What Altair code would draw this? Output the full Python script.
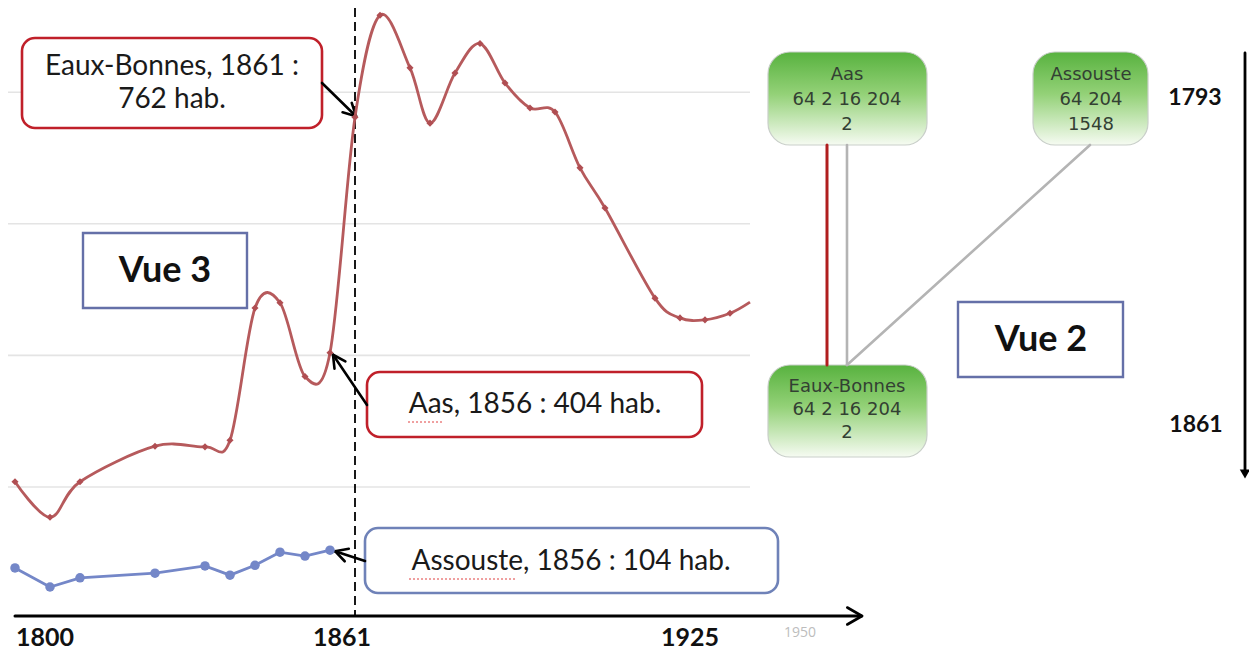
import math
import altair as alt
import pandas as pd

# ---------------- data ----------------
years_red = [1793, 1800, 1806, 1821, 1831, 1836, 1841, 1846, 1851, 1856, 1861,
             1866, 1872, 1876, 1881, 1886, 1891, 1896, 1901, 1906, 1911, 1921,
             1926, 1931, 1936, 1940]
pop_red = [208, 154, 208, 262, 261, 271, 472, 480, 368, 404, 762,
           917, 837, 753, 829, 874, 814, 776, 770, 685, 624, 487,
           457, 454, 464, 481]
marker_red = [True] * 25 + [False]

years_blue = [1793, 1800, 1806, 1821, 1831, 1836, 1841, 1846, 1851, 1856]
pop_blue = [77, 48, 62, 69, 80, 66, 81, 101, 95, 104]

grid_values = [200, 400, 600, 800]
grid_end_years = [1940, 1940, 1940, 1940]

axis_label_text = ["1800", "1861", "1925"]
axis_label_years = [1800, 1861, 1925]
faint_label_text = ["1950"]
faint_label_years = [1950]
event_year = 1861

# ---------------- geometry ----------------
W, H = 1241, 644
OFF = 8
X0_IMG, X_YEAR0, X_PER_YEAR = 15, 1793, 5.0
Y0_IMG, Y_PER_UNIT = 618.6, 0.658


def px(year):
    return X0_IMG + (year - X_YEAR0) * X_PER_YEAR - OFF


def py(v):
    return Y0_IMG - v * Y_PER_UNIT - OFF


def p(v):
    return v - OFF


x_dom = [X_YEAR0 - (X0_IMG - OFF) / X_PER_YEAR, X_YEAR0 + (W - (X0_IMG - OFF)) / X_PER_YEAR]
y_dom = [(Y0_IMG - OFF - H) / Y_PER_UNIT, (Y0_IMG - OFF) / Y_PER_UNIT]
xs = alt.Scale(domain=x_dom, nice=False, zero=False)
ys = alt.Scale(domain=y_dom, nice=False, zero=False)

RED = "#B65A5C"
RED_PT = "#B04E52"
BLUE = "#7487C8"
BOX_RED = "#C0202A"
BOX_BLUE = "#6F82B8"
VUE_BLUE = "#6570A8"

red_df = pd.DataFrame({"year": years_red, "pop": pop_red, "marker": marker_red})
blue_df = pd.DataFrame({"year": years_blue, "pop": pop_blue})
grid_df = pd.DataFrame({"value": grid_values, "start": [x_dom[0]] * 4, "end": grid_end_years})


def X(f):
    return alt.X(f, scale=xs, axis=None)


def Y(f):
    return alt.Y(f, scale=ys, axis=None)


def PX(f):
    return alt.X(f, scale=None, axis=None)


def PY(f):
    return alt.Y(f, scale=None, axis=None)


# grid
grid = alt.Chart(grid_df).mark_rule(color="#E4E4E4", strokeWidth=1.6).encode(
    x=X("start:Q"), x2="end:Q", y=Y("value:Q"))

# annotation boxes (rounded)
rboxes = pd.DataFrame({
    "x": [p(22), p(367), p(365)], "x2": [p(322), p(702), p(778)],
    "y": [p(38), p(372), p(528)], "y2": [p(128), p(437), p(593)],
    "s": [BOX_RED, BOX_RED, BOX_BLUE]})
rbox = alt.Chart(rboxes).mark_rect(cornerRadius=13, fill="white", strokeWidth=2.6).encode(
    x=PX("x:Q"), x2="x2:Q", y=PY("y:Q"), y2="y2:Q", stroke=alt.Stroke("s:N", scale=None))

vboxes = pd.DataFrame({"x": [p(83), p(958)], "x2": [p(247), p(1123)],
                       "y": [p(233), p(302)], "y2": [p(308), p(377)]})
vbox = alt.Chart(vboxes).mark_rect(fill="white", stroke=VUE_BLUE, strokeWidth=2.4).encode(
    x=PX("x:Q"), x2="x2:Q", y=PY("y:Q"), y2="y2:Q")

# green boxes
gboxes = pd.DataFrame({"x": [p(768), p(1033), p(768)], "x2": [p(927), p(1148), p(927)],
                       "y": [p(52), p(52), p(365)], "y2": [p(145), p(145), p(457)]})
grad = alt.Gradient(gradient="linear", x1=0, x2=0, y1=0, y2=1, stops=[
    alt.GradientStop(offset=0, color="#58B23F"),
    alt.GradientStop(offset=0.45, color="#93D177"),
    alt.GradientStop(offset=1, color="#F6FBF2")])
gbox = alt.Chart(gboxes).mark_rect(cornerRadius=22, fill=grad, stroke="#C9CFC9", strokeWidth=1.2).encode(
    x=PX("x:Q"), x2="x2:Q", y=PY("y:Q"), y2="y2:Q")

# segments: diagram lines, axis, arrows
segs = []


def seg(x1, y1, x2, y2, c, w):
    segs.append({"x": p(x1), "y": p(y1), "x2": p(x2), "y2": p(y2), "c": c, "w": w})


def arrow(x1, y1, x2, y2, c="black", w=2.6, head=14, ang=28, with_shaft=True):
    if with_shaft:
        seg(x1, y1, x2, y2, c, w)
    a = math.atan2(y2 - y1, x2 - x1)
    for s in (-1, 1):
        b = a + math.pi + s * math.radians(ang)
        seg(x2, y2, x2 + head * math.cos(b), y2 + head * math.sin(b), c, w)


ARROW_X = 1245
seg(827, 145, 827, 365, "#B01E1E", 3)
seg(847, 145, 847, 365, "#B4B4B4", 2.6)
seg(1090, 145, 847, 365, "#B4B4B4", 2.6)
seg(15, 616, 861, 616, "black", 3)
arrow(15, 616, 862, 616, head=17, ang=30, with_shaft=False)
seg(ARROW_X, 53, ARROW_X, 472, "black", 2.8)
arrow(322, 83, px(1861) + OFF + 1, py(762) + OFF - 1)
arrow(367, 405, px(1856) + OFF + 3, py(404) + OFF + 2)
arrow(365, 561, px(1856) + OFF + 5, py(104) + OFF + 1)
seg_df = pd.DataFrame(segs)
seg_layer = alt.Chart(seg_df).mark_rule(strokeCap="round").encode(
    x=PX("x:Q"), x2="x2:Q", y=PY("y:Q"), y2="y2:Q",
    color=alt.Color("c:N", scale=None), strokeWidth=alt.StrokeWidth("w:Q", scale=None))

down_head = alt.Chart(pd.DataFrame({"x": [p(ARROW_X)], "y": [p(474)]})).mark_point(
    shape="triangle-down", filled=True, color="black", size=110, opacity=1).encode(x=PX("x:Q"), y=PY("y:Q"))

# spell-check squiggles
squig = pd.DataFrame({"x": [p(408), p(409)], "x2": [p(442), p(516)], "y": [p(422), p(579)]})
squig_layer = alt.Chart(squig).mark_rule(color="#E04040", strokeWidth=1, strokeDash=[2, 2]).encode(
    x=PX("x:Q"), x2="x2:Q", y=PY("y:Q"))

# dashed 1861 line
dashed = alt.Chart(pd.DataFrame({"year": [event_year]})).mark_rule(
    color="black", strokeWidth=1.8, strokeDash=[9, 5]).encode(
    x=X("year:Q"), y=alt.value(0), y2=alt.value(p(616)))

# data series
red_line = alt.Chart(red_df).mark_line(color=RED, strokeWidth=2.8, interpolate="cardinal").encode(
    x=X("year:Q"), y=Y("pop:Q"))
red_pts = alt.Chart(red_df).transform_filter("datum.marker").mark_point(
    shape="diamond", filled=True, size=50, color=RED_PT, opacity=1).encode(x=X("year:Q"), y=Y("pop:Q"))
blue_line = alt.Chart(blue_df).mark_line(color=BLUE, strokeWidth=2.8).encode(x=X("year:Q"), y=Y("pop:Q"))
blue_pts = alt.Chart(blue_df).mark_circle(size=90, color=BLUE, opacity=1).encode(x=X("year:Q"), y=Y("pop:Q"))

# axis labels (placed slightly off their years, as in the picture)
label_shift = [-5, -13, 15]
ax_df = pd.DataFrame({"x": [px(y) + d for y, d in zip(axis_label_years, label_shift)],
                      "t": axis_label_text})
ax_labels = alt.Chart(ax_df).mark_text(font="Lato", fontWeight="bold", fontSize=25, color="#111111",
                                       baseline="bottom").encode(
    x=PX("x:Q"), y=alt.value(p(651)), text="t:N")
faint_df = pd.DataFrame({"year": faint_label_years, "t": faint_label_text})
faint_labels = alt.Chart(faint_df).mark_text(font="Open Sans", fontSize=14, color="#BDBDBD",
                                             baseline="middle").encode(
    x=X("year:Q"), y=alt.value(p(633)), text="t:N")

# annotation texts
ann_df = pd.DataFrame({
    "x": [p(172), p(172), p(535), p(571)],
    "y": [p(67), p(100), p(405), p(562)],
    "t": ["Eaux-Bonnes, 1861 :", "762 hab.", "Aas, 1856 : 404 hab.", "Assouste, 1856 : 104 hab."]})
ann_text = alt.Chart(ann_df).mark_text(font="Lato", fontSize=28, color="#1A1A1A", baseline="middle").encode(
    x=PX("x:Q"), y=PY("y:Q"), text="t:N")

vue_df = pd.DataFrame({"x": [p(165), p(1041)], "y": [p(271), p(340)], "t": ["Vue 3", "Vue 2"]})
vue_text = alt.Chart(vue_df).mark_text(font="Lato", fontSize=36, fontWeight="bold", color="#111111",
                                       baseline="middle").encode(x=PX("x:Q"), y=PY("y:Q"), text="t:N")

node_df = pd.DataFrame({
    "x": [p(847)] * 3 + [p(1091)] * 3 + [p(847)] * 3,
    "y": [p(75), p(100), p(125), p(75), p(100), p(125), p(387), p(410), p(433)],
    "t": ["Aas", "64 2 16 204", "2", "Assouste", "64 204", "1548", "Eaux-Bonnes", "64 2 16 204", "2"]})
node_text = alt.Chart(node_df).mark_text(font="DejaVu Sans", fontSize=18, color="#334033",
                                         baseline="middle").encode(x=PX("x:Q"), y=PY("y:Q"), text="t:N")

yr_df = pd.DataFrame({"x": [p(1195), p(1196)], "y": [p(98), p(425)], "t": ["1793", "1861"]})
yr_text = alt.Chart(yr_df).mark_text(font="Lato", fontSize=23, fontWeight="bold", color="#111111",
                                     baseline="middle").encode(x=PX("x:Q"), y=PY("y:Q"), text="t:N")

chart = alt.layer(
    grid, dashed, rbox, vbox, gbox, seg_layer, down_head, squig_layer,
    red_line, red_pts, blue_line, blue_pts,
    ax_labels, faint_labels, ann_text, vue_text, node_text, yr_text
).resolve_scale(x="independent", y="independent").properties(
    width=W, height=H, padding=0, autosize=alt.AutoSizeParams(type="none"), background="white"
).configure_view(stroke=None)

chart.save("out.html", embed_options={"renderer": "svg", "actions": False})
